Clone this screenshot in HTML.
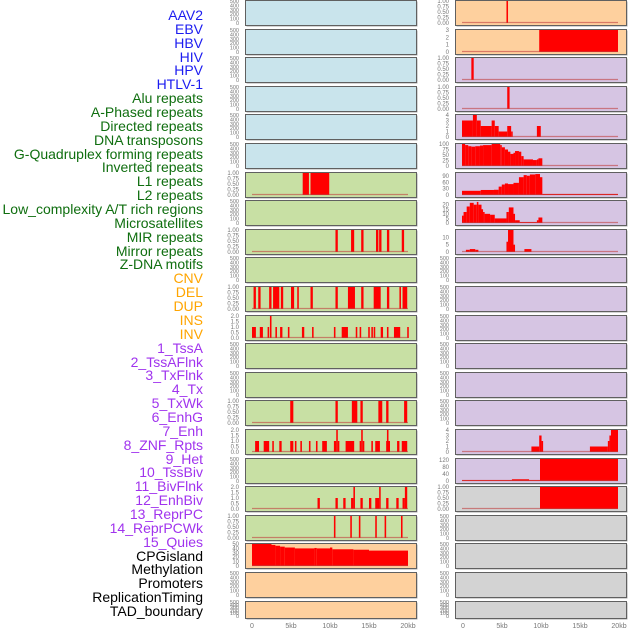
<!DOCTYPE html>
<html><head><meta charset="utf-8">
<style>
html,body{margin:0;padding:0;background:#fff;}
#wrap{position:relative;width:630px;height:630px;overflow:hidden;font-family:"Liberation Sans",sans-serif;}
.lbl{position:absolute;right:427px;font-size:14px;line-height:14px;white-space:nowrap;}
svg{position:absolute;left:0;top:0;}
</style></head><body>
<div id="wrap">
<div id="labels"></div>
<svg id="svg" width="630" height="630"></svg>
</div>
<script>
// ---- Data ----
const trackNames = ["AAV2","EBV","HBV","HIV","HPV","HTLV-1","Alu repeats","A-Phased repeats","Directed repeats","DNA transposons","G-Quadruplex forming repeats","Inverted repeats","L1 repeats","L2 repeats","Low_complexity A/T rich regions","Microsatellites","MIR repeats","Mirror repeats","Z-DNA motifs","CNV","DEL","DUP","INS","INV","1_TssA","2_TssAFlnk","3_TxFlnk","4_Tx","5_TxWk","6_EnhG","7_Enh","8_ZNF_Rpts","9_Het","10_TssBiv","11_BivFlnk","12_EnhBiv","13_ReprPC","14_ReprPCWk","15_Quies","CPGisland","Methylation","Promoters","ReplicationTiming","TAD_boundary"];
const trackGroups = ["v","v","v","v","v","v","r","r","r","r","r","r","r","r","r","r","r","r","r","s","s","s","s","s","c","c","c","c","c","c","c","c","c","c","c","c","c","c","c","k","k","k","k","k"];
const xTickLabels = ["0","5kb","10kb","15kb","20kb"];
const xTickValues = [0,5,10,15,20];

const ticksEmpty = [0,100,200,300,400,500];
const ticksBin = [0,0.25,0.5,0.75,1];
const ticks2 = [0,0.5,1,1.5,2];
const ticks3 = [0,1,2,3];
const ticks4 = [0,1,2,3,4];
const ticks50 = [0,10,20,30,40,50];
const ticks100 = [0,25,50,75,100];
const ticks90 = [0,30,60,90];
const ticks20 = [0,5,10,15,20];
const ticks10 = [0,5,10];
const ticks120 = [0,40,80,120];

// segments: [startKb, endKb, value]
const L6 = [[6.5,7.3,1],[7.5,9.9,1]];
const L8 = [[10.7,11.0,1],[12.7,13.1,1],[14.0,14.3,1],[15.9,16.2,1],[16.3,16.6,1],[17.3,17.6,1],[19.2,19.5,1]];
const L10 = [[0.2,0.5,1],[0.8,1.1,1],[2.2,2.5,1],[2.7,3.5,1],[3.7,4.0,1],[5.0,5.4,1],[5.8,6.0,1],[7.5,7.8,1],[10.7,11.0,1],[12.3,13.2,1],[14.0,14.3,1],[15.6,16.5,1],[17.3,17.6,1],[18.9,19.1,1],[19.3,19.9,1]];
const L11 = [[0,0.5,1],[1.0,1.4,1],[2.0,2.2,1],[2.3,2.5,2],[3.0,3.2,1],[3.6,3.9,1],[4.6,4.8,1],[6.4,6.7,1],[7.7,7.9,1],[10.5,10.7,1],[11.5,12.3,1],[13.3,13.5,1],[13.8,14.0,1],[14.9,15.1,1],[15.3,15.5,1],[15.6,15.8,1],[16.5,16.8,1],[17.3,17.5,1],[18.2,19.0,1],[19.9,20.1,1]];
const L14 = [[4.9,5.3,1],[10.7,11.0,1],[12.8,13.5,1],[13.9,14.2,1],[16.2,16.7,1],[17.2,17.5,1],[19.5,19.9,1]];
const L15 = [[0.4,0.9,1],[1.5,2.2,1],[2.6,2.8,1],[3.5,3.8,1],[4.9,5.3,1],[5.5,5.7,1],[6.2,6.4,1],[7.3,7.5,1],[8.2,8.4,1],[9.0,9.6,1],[10.5,10.8,1],[10.8,11.0,2],[11.0,11.2,1],[12.0,13.1,1],[13.8,14.0,1],[14.0,14.2,2],[14.2,14.4,1],[15.3,15.5,1],[15.8,16.4,1],[17.2,17.3,1],[17.3,17.5,2],[17.5,17.6,1],[18.6,18.9,1],[19.2,19.9,1]];
const L17 = [[8.4,8.7,1],[10.7,11.0,1],[11.7,12.0,1],[12.7,13.0,1],[13.0,13.2,2],[13.9,14.2,1],[15.0,15.3,1],[15.8,16.3,1],[16.3,16.5,2],[17.2,17.5,1],[18.5,18.8,1],[19.3,19.6,1],[19.6,19.9,2]];
const L18 = [[10.5,10.7,1],[12.6,12.8,1],[13.7,13.9,1],[15.8,16.0,1],[17.0,17.2,1],[19.1,19.3,1]];
const L19 = [[0,2.5,50],[2.5,3.0,48],[3.0,3.6,46],[3.6,4.2,44],[4.2,5.5,42],[5.5,8.0,40],[8.0,8.3,41],[8.3,10.0,40],[10.0,10.3,42],[10.3,13.0,38],[13.0,15.0,37],[15.0,20.0,35]];

const R0 = [[5.7,5.9,1]];
const R1 = [[9.9,20,3]];
const R2 = [[1.2,1.5,1]];
const R3 = [[5.8,6.1,1]];
const R4 = [[0,1.4,3],[1.4,1.9,4],[1.9,2.4,3],[2.4,3.8,2],[3.8,4.2,3],[4.2,4.7,2],[4.7,5.8,1],[5.8,6.3,2],[6.3,6.5,1],[9.6,10.1,2]];
const R5 = [[0,0.4,100],[0.4,0.8,95],[0.8,1.2,90],[1.2,1.7,88],[1.7,2.3,90],[2.3,2.7,93],[2.7,3.8,95],[3.8,4.9,100],[4.9,5.1,95],[5.1,5.5,85],[5.5,5.9,75],[5.9,6.2,65],[6.2,6.6,55],[6.6,6.8,60],[6.8,7.3,68],[7.3,7.6,65],[7.6,7.9,45],[7.9,9.1,30],[9.1,9.6,27],[9.6,9.8,30],[9.8,10.3,35]];
const R6 = [[0,2.4,20],[2.4,4.1,24],[4.1,4.7,25],[4.7,5.1,40],[5.1,5.5,50],[5.5,5.9,55],[5.9,6.6,52],[6.6,7.3,58],[7.3,7.9,85],[7.9,8.3,95],[8.3,8.7,92],[8.7,9.4,98],[9.4,10.0,100],[10.0,10.3,85],[10.3,20,5]];
const R7 = [[0,0.2,8],[0.2,0.6,12],[0.6,1.0,18],[1.0,1.5,22],[1.5,1.9,20],[1.9,2.1,23],[2.1,2.5,20],[2.5,2.7,15],[2.7,2.9,12],[2.9,3.6,10],[3.6,4.2,9],[4.2,5.7,5],[5.7,6.0,12],[6.0,6.6,17],[6.6,6.8,10],[6.8,7.4,3],[7.4,9.6,1],[9.6,9.8,3],[9.8,10.3,6]];
const R8 = [[0.5,1.0,1.5],[1.0,1.7,2],[1.7,2.1,1.5],[5.7,5.9,7],[5.9,6.6,15],[6.6,6.8,5],[8.0,8.9,2]];
const R15 = [[8.9,9.9,1],[9.9,10.2,3],[10.2,10.4,2],[16.4,18.7,1],[18.7,18.9,2],[18.9,19.1,3],[19.1,20,4]];
const R16 = [[0,6.4,5],[6.4,8.6,10],[8.6,10,5],[10,20,125]];
const R17 = [[10,20,1]];

// panel config: [bg, ticks, max, segs]
const BLUE="#c9e4ec", GREEN="#c8e0a4", ORANGE="#fed09e", PURPLE="#d6c5e3", GRAY="#d3d3d3";
const E=null;
const leftPanels = [
 [BLUE,ticksEmpty,500,E],[BLUE,ticksEmpty,500,E],[BLUE,ticksEmpty,500,E],[BLUE,ticksEmpty,500,E],[BLUE,ticksEmpty,500,E],[BLUE,ticksEmpty,500,E],
 [GREEN,ticksBin,1,L6],[GREEN,ticksEmpty,500,E],[GREEN,ticksBin,1,L8],[GREEN,ticksEmpty,500,E],[GREEN,ticksBin,1,L10],[GREEN,ticks2,2,L11],
 [GREEN,ticksEmpty,500,E],[GREEN,ticksEmpty,500,E],[GREEN,ticksBin,1,L14],[GREEN,ticks2,2,L15],[GREEN,ticksEmpty,500,E],[GREEN,ticks2,2,L17],[GREEN,ticksBin,1,L18],
 [ORANGE,ticks50,50,L19],[ORANGE,ticksEmpty,500,E],[ORANGE,ticksEmpty,500,E]];
const rightPanels = [
 [ORANGE,ticksBin,1,R0],[ORANGE,ticks3,3,R1],[PURPLE,ticksBin,1,R2],[PURPLE,ticksBin,1,R3],[PURPLE,ticks4,4,R4],[PURPLE,ticks100,100,R5],
 [PURPLE,ticks90,105,R6],[PURPLE,ticks20,24,R7],[PURPLE,ticks10,15,R8],
 [PURPLE,ticksEmpty,500,E],[PURPLE,ticksEmpty,500,E],[PURPLE,ticksEmpty,500,E],[PURPLE,ticksEmpty,500,E],[PURPLE,ticksEmpty,500,E],[PURPLE,ticksEmpty,500,E],
 [PURPLE,ticks4,4,R15],[PURPLE,ticks120,125,R16],[GRAY,ticksBin,1,R17],[GRAY,ticksEmpty,500,E],[GRAY,ticksEmpty,500,E],[GRAY,ticksEmpty,500,E],[GRAY,ticksEmpty,500,E]];

// ---- Rendering ----
const groupColor = {v:"#1c1cf0",r:"#0f6e0f",s:"#ffa500",c:"#a033ee",k:"#000"};
const labDiv = document.getElementById('labels');
trackNames.forEach((n,i)=>{
  const d=document.createElement('div');
  d.className='lbl';
  
  
  d.style.top=(8+i*13.86)+'px';
  d.style.color=groupColor[trackGroups[i]];
  d.textContent=n;
  labDiv.appendChild(d);
});
const NS="http://www.w3.org/2000/svg";
const svg=document.getElementById('svg');
function mk(tag,attrs,parent){const e=document.createElementNS(NS,tag);for(const k in attrs)e.setAttribute(k,attrs[k]);(parent||svg).appendChild(e);return e;}
function fmt(t,ticks){const step=ticks[1]-ticks[0];if(step<0.5)return t.toFixed(2);if(step<1)return t.toFixed(1);return String(t);}
function drawPanel(px,i,cfg){
  const [bg,ticks,max,segs]=cfg;
  const top=Math.round(i*28.6), h=(i===21)?17:25, w=171;
  const x0=px+7, kb=7.8;
  const xs=v=>x0+v*kb;
  const y0=top+h-2, yT=top+1;
  const ys=v=>y0-(v/max)*(y0-yT);
  const g=mk('g',{});
  
  
  mk('rect',{x:px+1.5,y:top+1.5,width:w,height:h,fill:'#aaa'},g);
  mk('rect',{x:px+0.5,y:top+0.5,width:w,height:h,fill:bg,stroke:'#606060','stroke-width':1},g);
  ticks.forEach(t=>{
    const tx=mk('text',{x:px-6,y:ys(t)+2,'font-size':(ticks===ticksEmpty?5.5:6),fill:'#777','text-anchor':'end'},g);
    
    
    tx.textContent=fmt(t,ticks);
  });
  if(segs){
    segs.forEach(s=>{
      const r=mk('rect',{x:xs(s[0]),y:ys(s[2]),width:Math.max(1.5,xs(s[1])-xs(s[0])),height:y0-ys(s[2]),fill:'#ff0000'},g);
      
      
    });
    mk('line',{x1:xs(0),x2:xs(20),y1:y0-0.5,y2:y0-0.5,stroke:'#c04040','stroke-opacity':0.6,'stroke-width':1.2},g);
  }
}
leftPanels.forEach((c,i)=>drawPanel(245,i,c));
rightPanels.forEach((c,i)=>drawPanel(455,i,c));
[252,463].forEach(x0=>{
  xTickValues.forEach((v,j)=>{
    const t=mk('text',{x:x0+v*7.8,y:628,'font-size':7,fill:'#777','text-anchor':'middle'});
    
    
    t.textContent=xTickLabels[j];
  });
});
</script>
</body></html>
